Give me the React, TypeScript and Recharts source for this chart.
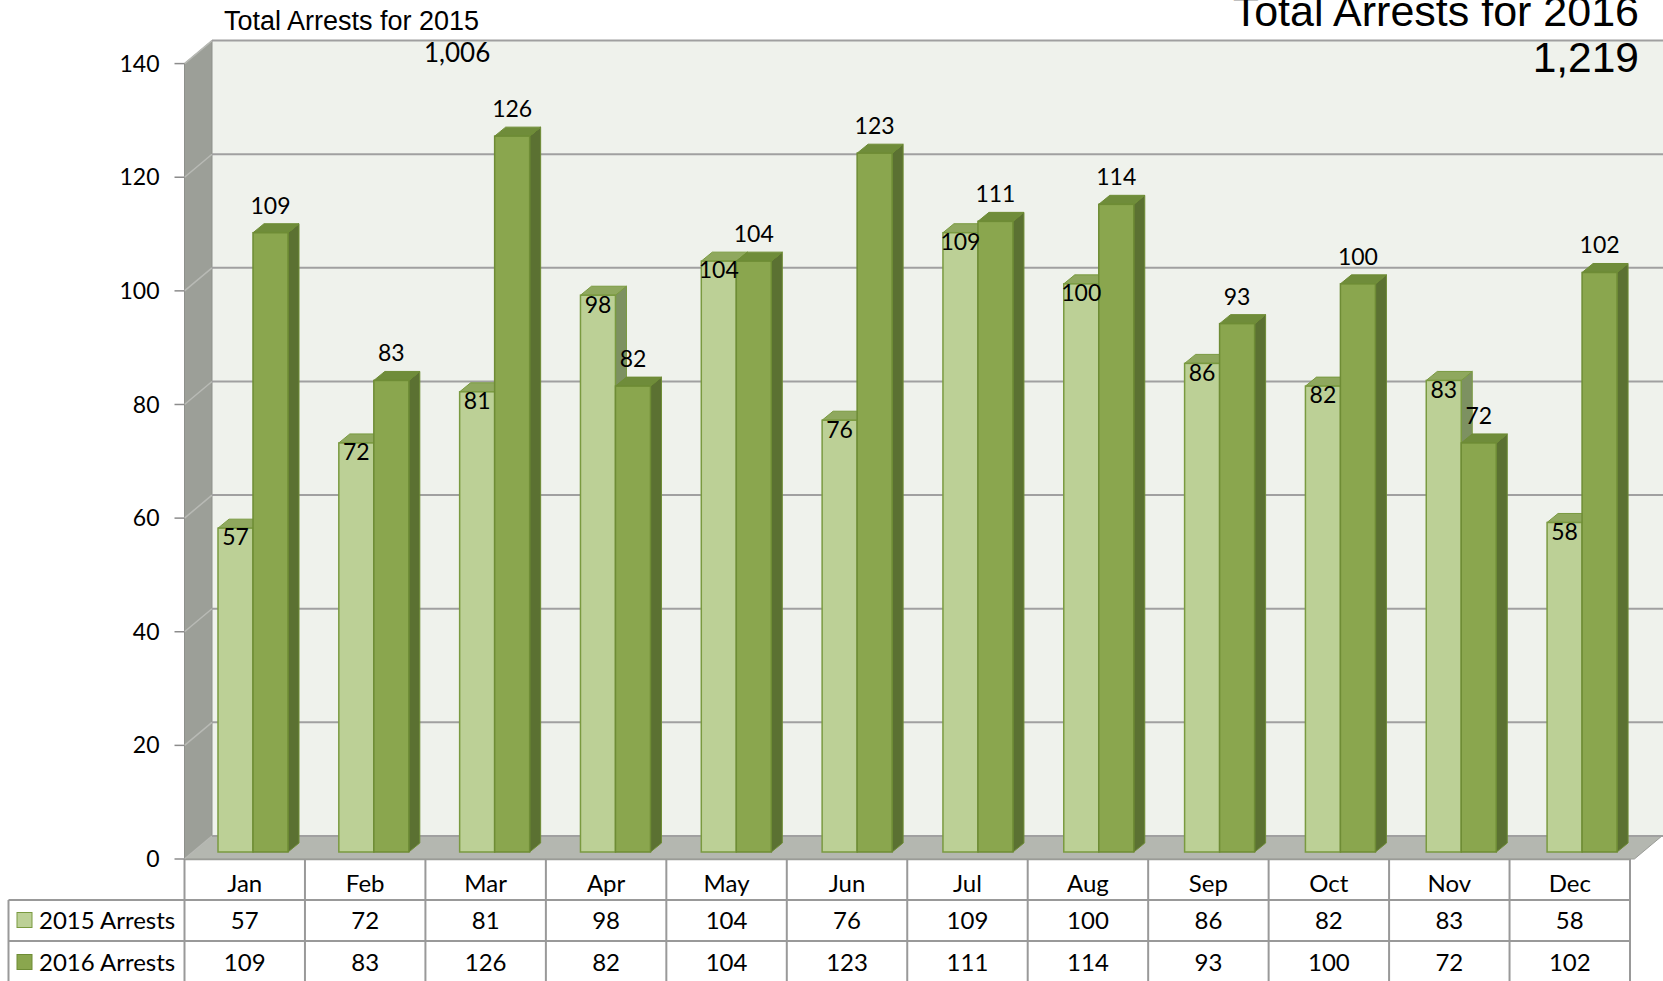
import { BarChart, Bar, XAxis, YAxis, CartesianGrid, LabelList } from 'recharts';

const months = ['Jan', 'Feb', 'Mar', 'Apr', 'May', 'Jun', 'Jul', 'Aug', 'Sep', 'Oct', 'Nov', 'Dec'];
const arrests2015 = [57, 72, 81, 98, 104, 76, 109, 100, 86, 82, 83, 58];
const arrests2016 = [109, 83, 126, 82, 104, 123, 111, 114, 93, 100, 72, 102];
const seriesNames = ['2015 Arrests', '2016 Arrests'];
const yTicks = [0, 20, 40, 60, 80, 100, 120, 140];

const data = months.map((m, i) => ({ month: m, a2015: arrests2015[i], a2016: arrests2016[i] }));
const total2015 = arrests2015.reduce((s, v) => s + v, 0);
const total2016 = arrests2016.reduce((s, v) => s + v, 0);
const fmt = (n: number) => n.toLocaleString('en-US');

// 3d offsets, measured from the bar plane
const FRONT_DX = -8.5, FRONT_DY = 7;
const BACK_DX = 19, BACK_DY = -16;
const BAR_DX = 11, BAR_DY = -9;
const ROW_H = 41;

const FONT = 'Lato, "Open Sans", sans-serif';
const ARIAL = '"Liberation Sans", Arial, sans-serif';
const LIGHT = { front: '#bcd096', top: '#8fa85e', side: '#7d9161', edge: '#7a9a40' };
const DARK = { front: '#8aa64e', top: '#6f8c3a', side: '#5b7132', edge: '#6e8c35' };
const TABLE_LINE = '#999999';

const bar3d = (c: typeof LIGHT) => (props: any) => {
  const { x, y, width: w, height: h } = props;
  if (!(h > 0)) return <g />;
  return (
    <g>
      <polygon
        points={`${x + w},${y} ${x + w + BAR_DX},${y + BAR_DY} ${x + w + BAR_DX},${y + h + BAR_DY} ${x + w},${y + h}`}
        fill={c.side} stroke={c.edge} strokeWidth={1}
      />
      <polygon
        points={`${x},${y} ${x + BAR_DX},${y + BAR_DY} ${x + w + BAR_DX},${y + BAR_DY} ${x + w},${y}`}
        fill={c.top} stroke={c.edge} strokeWidth={1}
      />
      <rect x={x} y={y} width={w} height={h} fill={c.front} stroke={c.edge} strokeWidth={1.5} />
    </g>
  );
};

// walls are drawn with the first grid line, the lines go on top of them
const GridLine = (props: any) => {
  const { x1, x2, y1, index, x, y, width, height } = props;
  const bottom = y + height;
  const walls = index === 0 ? (
    <g>
      <rect x={x + BACK_DX} y={y + BACK_DY} width={width + 40} height={height} fill="#eff2ec" />
      <polygon
        points={`${x + FRONT_DX},${y + FRONT_DY} ${x + BACK_DX},${y + BACK_DY} ${x + BACK_DX},${bottom + BACK_DY} ${x + FRONT_DX},${bottom + FRONT_DY}`}
        fill="#9c9f98" stroke="#8e908b"
      />
      <polygon
        points={`${x + FRONT_DX},${bottom + FRONT_DY} ${x + BACK_DX},${bottom + BACK_DY} ${x + width + BACK_DX},${bottom + BACK_DY} ${x + width + FRONT_DX},${bottom + FRONT_DY}`}
        fill="#b4b7b0" stroke="#9a9c97"
      />
    </g>
  ) : null;
  return (
    <g>
      {walls}
      <line x1={x1 + FRONT_DX} y1={y1 + FRONT_DY} x2={x1 + BACK_DX} y2={y1 + BACK_DY} stroke="#b8bab5" strokeWidth={1.5} />
      <line x1={x1 + BACK_DX} y1={y1 + BACK_DY} x2={x2 + BACK_DX + 10} y2={y1 + BACK_DY} stroke="#a0a0a0" strokeWidth={2} />
    </g>
  );
};

const YTick = (props: any) => {
  const { x, y, payload } = props;
  const fx = x + FRONT_DX;
  const fy = y + FRONT_DY;
  return (
    <g>
      <line x1={fx - 10} x2={fx} y1={fy} y2={fy} stroke="#8c8c8c" strokeWidth={1.5} />
      <text x={fx - 25} y={fy} dy="0.35em" textAnchor="end" fontSize={23} fontFamily={FONT} fill="#000">
        {payload.value}
      </text>
    </g>
  );
};

const rowShift = [4, 0, 1];

const TableTick = (props: any) => {
  const { x, y, payload } = props;
  const i = months.indexOf(payload.value);
  const half = payload.offset || 60.2;
  const cx = x + FRONT_DX;
  const top = y + FRONT_DY;
  const left = cx - half;
  const right = cx + half;
  const rows = [payload.value, arrests2015[i], arrests2016[i]];
  const legendLeft = 8.5;
  return (
    <g>
      <rect x={left} y={top} width={right - left} height={ROW_H * 3} fill="#fff" />
      {rows.map((v, r) => (
        <text key={r} x={cx} y={top + ROW_H * r + ROW_H / 2 + rowShift[r]} dy="0.35em" textAnchor="middle"
          fontSize={24} fontFamily={FONT} fill="#000">
          {v}
        </text>
      ))}
      <line x1={left} x2={left} y1={top} y2={top + ROW_H * 3} stroke={TABLE_LINE} strokeWidth={2} />
      {i === months.length - 1 && (
        <line x1={right} x2={right} y1={top} y2={top + ROW_H * 3} stroke={TABLE_LINE} strokeWidth={2} />
      )}
      <line x1={left} x2={right} y1={top + 0.5} y2={top + 0.5} stroke="#9a9c97" strokeWidth={1.5} />
      {[1, 2, 3].map((r) => (
        <line key={r} x1={i === 0 ? legendLeft : left} x2={right} y1={top + ROW_H * r} y2={top + ROW_H * r}
          stroke={TABLE_LINE} strokeWidth={2} />
      ))}
      {i === 0 && (
        <g>
          <line x1={legendLeft} x2={legendLeft} y1={top + ROW_H} y2={top + ROW_H * 3} stroke={TABLE_LINE} strokeWidth={2} />
          {seriesNames.map((name, r) => {
            const c = r === 0 ? LIGHT : DARK;
            const rowMid = top + ROW_H * (r + 1) + ROW_H / 2 + rowShift[r + 1];
            return (
              <g key={name}>
                <rect x={17} y={rowMid - 8} width={15} height={15} fill={c.front} stroke={c.edge} strokeWidth={1} />
                <text x={39} y={rowMid} dy="0.35em" fontSize={24} fontFamily={FONT} fill="#000">{name}</text>
              </g>
            );
          })}
        </g>
      )}
    </g>
  );
};

export default function App() {
  return (
    <div style={{ position: 'absolute', left: 0, top: 0, width: 1663, height: 981, background: '#fff', overflow: 'hidden' }}>
      <BarChart
        width={1663}
        height={981}
        data={data}
        margin={{ top: 56.6, right: 20.1, left: 0, bottom: 0 }}
        barGap={0}
        barSize={35}
      >
        <CartesianGrid vertical={false} horizontal={GridLine} />
        <XAxis dataKey="month" hide height={0} />
        <XAxis xAxisId="table" dataKey="month" height={129} axisLine={false} tickLine={false} tickSize={0}
          tickMargin={0} interval={0} padding={{ left: 0, right: 4.4 }} tick={TableTick} />
        <YAxis domain={[0, 140]} ticks={yTicks} width={193} axisLine={false} tickLine={false} tickSize={0}
          tickMargin={0} tick={YTick} />
        <Bar dataKey="a2015" name={seriesNames[0]} fill={LIGHT.front} shape={bar3d(LIGHT)} isAnimationActive={false}>
          <LabelList dataKey="a2015" position="insideTop" offset={1} fontSize={23} fontFamily={FONT} fill="#000" />
        </Bar>
        <Bar dataKey="a2016" name={seriesNames[1]} fill={DARK.front} shape={bar3d(DARK)} isAnimationActive={false}>
          <LabelList dataKey="a2016" position="top" offset={19} fontSize={23} fontFamily={FONT} fill="#000" />
        </Bar>
      </BarChart>
      <div style={{ position: 'absolute', left: 224, top: 8, fontFamily: ARIAL, fontSize: 27, lineHeight: 1, whiteSpace: 'nowrap' }}>
        Total Arrests for 2015
      </div>
      <div style={{ position: 'absolute', left: 424, top: 39, fontFamily: FONT, fontSize: 26, lineHeight: 1 }}>
        {fmt(total2015)}
      </div>
      <div style={{ position: 'absolute', right: 24, top: -10.5, fontFamily: ARIAL, fontSize: 43, lineHeight: 1, whiteSpace: 'nowrap', textAlign: 'right' }}>
        Total Arrests for 2016
      </div>
      <div style={{ position: 'absolute', right: 24, top: 37, fontFamily: ARIAL, fontSize: 42.5, lineHeight: 1, textAlign: 'right' }}>
        {fmt(total2016)}
      </div>
    </div>
  );
}
